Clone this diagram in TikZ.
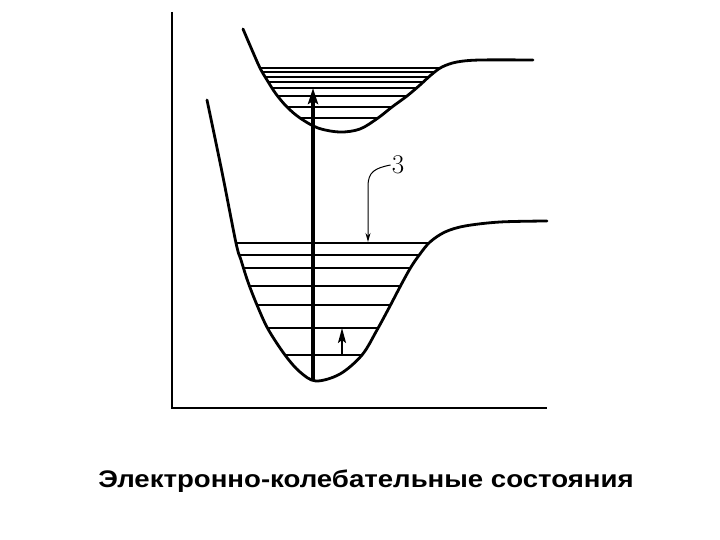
\documentclass[tikz,border=0pt]{standalone}
\usepackage{fontspec}
\newfontfamily\capfont{Liberation Sans}
\usepackage{tikz}
\usetikzlibrary{arrows.meta, calc}
\tikzstyle{curve} = [line width=2.8pt, line join=round, line cap=round]
\tikzstyle{level} = [line width=1.1pt]
\tikzstyle{axis} = [line width=2.3pt]
% potential curves (pixel coordinates, y downwards)
\newcommand{\excited}{plot[smooth, tension=0.55] coordinates {(243,29) (252,50) (260,68) (267,80) (276,94) (287,107) (300,118) (318,128) (340,132) (360,129) (378,118) (392,107) (407,96) (420,85) (431,75) (442,67) (457,62) (480,60) (533,60)}}
\newcommand{\ground}{plot[smooth, tension=0.55] coordinates {(207,100) (222,172) (236,243) (241,260) (248,282) (257,305) (268,329) (285,355) (300,372) (316,381) (340,374) (362,355) (377,330) (390,306) (401,285) (411,267) (420,254) (430,242) (445,232) (465,226) (500,222) (547,221)}}

\begin{document}
\begin{tikzpicture}[x=1pt, y=-1pt,
		jump/.style={line width=3.4pt, -{Stealth[length=16pt, width=10pt, inset=3pt]}},
		small/.style={line width=2pt, -{Stealth[length=15pt, width=8pt, inset=3pt]}},
		leader/.style={line width=1pt, -{Stealth[length=9pt, width=5pt]}},
		caption/.style={font=\capfont\bfseries\fontsize{24}{28}\selectfont, anchor=base},
		digit/.style={font=\fontsize{27}{27}\selectfont, inner sep=1pt}]
	\useasboundingbox (0,0) rectangle (720,540);
	
	% axes
	\coordinate (origin) at (172,408);
	\draw[axis] (172,12) -- (origin) -- (547,408);
	
	% vibrational levels
	\begin{scope}
		\clip \excited -- (533,29) -- cycle;
		\foreach \y in {68,72,77,82,88,96,107,118}
			\draw[level, line width=1.6pt] (240,\y) -- (540,\y);
	\end{scope}
	\begin{scope}
		\clip \ground -- (547,100) -- cycle;
		\foreach \y in {243,255,268,286,305,328,355}
			\draw[level] (200,\y) -- (550,\y);
	\end{scope}
	
	\draw[curve] \excited;
	\draw[curve] \ground;
	
	% transitions
	\coordinate (v0) at (313,380);
	\coordinate (e4) at (313,88);
	\draw[jump] (v0) -- (e4);
	\coordinate (s0) at (342,355);
	\coordinate (s1) at (342,328);
	\draw[small] (s0) -- (s1);
	
	% label 3
	\node (lbl) [digit] at (398,165) {3};
	\coordinate (bend) at (368,186);
	\coordinate (p3) at (368,242);
	\draw[leader] (lbl.west) .. controls (375,168) and (368,172) .. (bend) -- (p3);
	
	\node (title) [caption] at (366,487) {\scalebox{1.15}[1]{Электронно-колебательные состояния}};
\end{tikzpicture}
\end{document}
